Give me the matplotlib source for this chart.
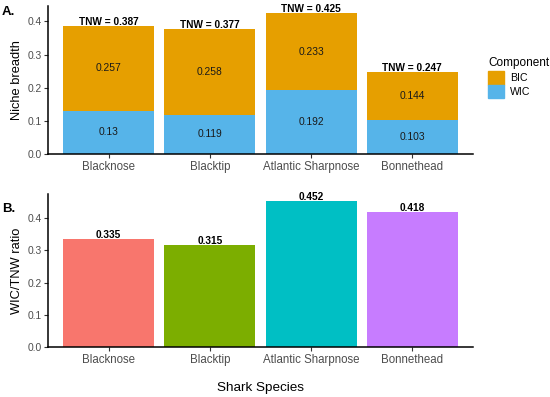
import matplotlib
matplotlib.use("Agg")
import matplotlib.pyplot as plt
from matplotlib.patches import Patch

plt.rcParams['font.family'] = ['Liberation Sans', 'DejaVu Sans']

species = ["Blacknose", "Blacktip", "Atlantic Sharpnose", "Bonnethead"]
wic = [0.13, 0.119, 0.192, 0.103]
bic = [0.257, 0.258, 0.233, 0.144]
tnw = [0.387, 0.377, 0.425, 0.247]
ratio = [0.335, 0.315, 0.452, 0.418]

bic_col = "#E69F00"
wic_col = "#56B4E9"
ratio_cols = ["#F8766D", "#7CAE00", "#00BFC4", "#C77CFF"]

fig = plt.figure(figsize=(5.5, 3.97), dpi=100)
ax1 = fig.add_axes([48/550, 1-154/397, 425/550, 148/397])
ax2 = fig.add_axes([48/550, 1-347/397, 425/550, 153/397])

x = range(len(species))

# panel A: stacked bars
ax1.bar(x, wic, width=0.9, color=wic_col)
ax1.bar(x, bic, width=0.9, bottom=wic, color=bic_col)
for i in x:
    ax1.text(i, wic[i] / 2, str(wic[i]), ha='center', va='center', fontsize=7.4, color='#1a1a1a')
    ax1.text(i, wic[i] + bic[i] / 2, str(bic[i]), ha='center', va='center', fontsize=7.4, color='#1a1a1a')
    ax1.text(i, tnw[i] - 0.004, f"TNW = {tnw[i]}", ha='center', va='bottom', fontsize=7.3,
             fontweight='bold', color='black')
ax1.set_ylim(0, max(tnw) * 1.05)
ax1.set_ylabel("Niche breadth", fontsize=9.3, labelpad=3)

# panel B: ratio bars
ax2.bar(x, ratio, width=0.9, color=ratio_cols)
for i in x:
    ax2.text(i, ratio[i] - 0.003, f"{ratio[i]:.3f}", ha='center', va='bottom', fontsize=7.3,
             fontweight='bold', color='black')
ax2.set_ylim(0, max(ratio) * 1.05)
ax2.set_ylabel("WIC/TNW ratio", fontsize=9.3, labelpad=3)
ax2.set_xlabel("Shark Species", fontsize=9.7, labelpad=12)

for ax in (ax1, ax2):
    ax.set_xlim(-0.6, len(species) - 0.4)
    ax.set_xticks(list(x))
    ax.set_xticklabels(species)
    ax.set_yticks([0, 0.1, 0.2, 0.3, 0.4])
    ax.set_yticklabels(["0.0", "0.1", "0.2", "0.3", "0.4"])
    ax.spines['top'].set_visible(False)
    ax.spines['right'].set_visible(False)
    ax.spines['left'].set_linewidth(1.1)
    ax.spines['bottom'].set_linewidth(1.1)
    ax.tick_params(axis='both', length=2.7, width=0.8, color='#333333',
                   labelsize=8.3, labelcolor='#4D4D4D', pad=2)
    ax.tick_params(axis='y', labelsize=7.4)

fig.text(2/550, 1-12/397, "A.", fontsize=9.5, fontweight='bold', va='center')
fig.text(2/550, 1-209/397, "B.", fontsize=9.5, fontweight='bold', va='center')

handles = [Patch(color=bic_col, label="BIC"), Patch(color=wic_col, label="WIC")]
leg = fig.legend(handles=handles, title="Component", loc='upper left',
                 bbox_to_anchor=(488/550, 1-59/397), frameon=False, borderpad=0,
                 borderaxespad=0,
                 fontsize=7.6, title_fontsize=8.5, handlelength=1.5, handleheight=1.6,
                 labelspacing=0.0, handletextpad=0.6, alignment='left')
leg.get_title().set_position((0, 2))

fig.savefig("out.png", dpi=100)
